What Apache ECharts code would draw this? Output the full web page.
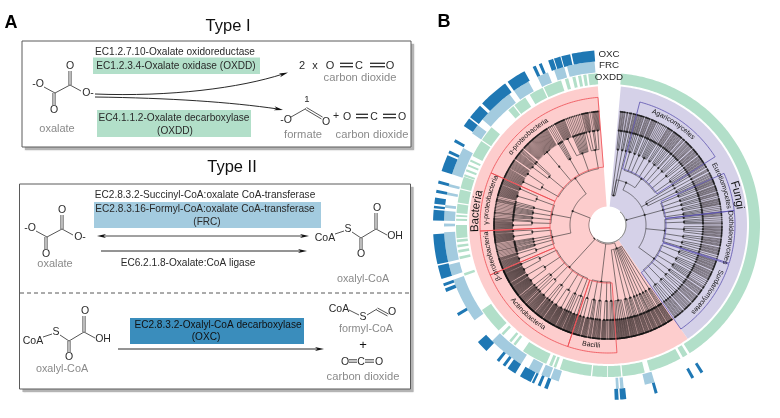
<!DOCTYPE html>
<html>
<head>
<meta charset="utf-8">
<title>Oxalate pathways</title>
<script src="https://cdn.jsdelivr.net/npm/echarts@6/dist/echarts.min.js"></script>
<style>
html,body{margin:0;padding:0;background:#fff;}
#chart{width:780px;height:418px;}
</style>
</head>
<body>
<div id="chart"></div>
<script>
// ring segments, degrees clockwise from north
var oxddSegments = [[5,147.5],[148.5,150.5],[151.5,164],[166,174.5],[175,180],[180.3,186],[186.5,198.5],[200,201],[201.6,202.8],[204,214],[217.5,218.5],[219.5,220.5],[223.5,224.5],[226,236],[250.5,251.5],[257,258],[259.5,260.5],[261.5,262.5],[263.5,264.5],[265,270],[271.6,272.4],[273.1,273.9],[274.5,278],[278.5,283.5],[284,288.5],[288.7,289.5],[290.7,291.5],[292.7,293.5],[294.7,295.5],[297,303.5],[304,310],[319,321.5],[322,327],[329,334.5],[335,342],[343.5,344.8],[346.4,347.6],[348.6,349.8],[350.6,351.8],[352.5,356]];
var frcSegments = [[345.5,355.3],[340.8,344.5],[334.5,338.5],[325,331],[310,323],[304,307.5],[288,298],[283.5,284.5],[280.5,281.5],[276,277],[271.5,275],[269.5,270.5],[257,267.5],[252,256],[234.5,250.5],[212,225],[205,209],[201,204],[197.5,200.5],[176.2,177.2],[174.5,175.7],[163.5,167]];
var oxcSegments = [[348,355.5],[344.5,347.5],[342,344.2],[340,341.7],[336.7,337.7],[334.5,335.6],[325,331.5],[314,324],[308,313],[304.5,307.5],[298.3,299.3],[294.2,295.2],[288,293.5],[283.7,284.7],[280.6,281.6],[277,279],[275.5,276.3],[271.5,275],[257,267],[252,256.5],[249.5,250.5],[247.5,248.7],[238.7,239.7],[224,228],[218.5,219.5],[216,217],[212,215],[206.2,210.2],[205,205.8],[202.7,203.7],[200.2,201.4],[176.5,177.8],[174,176],[163.5,164.5],[150.5,151.5],[147,148]];

// background sectors and clade outlines: [start, end]
var bacteriaSector = [[145,355.8]];
var fungiSector = [[5.3,145]];
var bacteriaClades = [[294,355.5],[267.3,294],[247,267.3],[198.3,247],[176,198.3]];
var fungiClades = [[14.5,57.5],[66,83.5],[83.5,107.5],[108,145]];

// leaf counts: class -> order -> family
var alphaOrders = [[14,12],[10,3,2],[38],[1,1,1,1],[14,1,1,1,1,1,1,1,1,1],[2,7,1,1,8]];
var gammaOrders = [[14,2,2],[1,1,1,2],[1,1,1,1,1,1],[2,3,1],[18,9]];
var betaOrders = [[14,6],[1,1,1,1],[2,1,1],[1,1,1],[16,5]];
var actinoOrders = [[4,12,6],[3,8,3],[16,14],[8,9,4],[20,6],[3,12,4],[24,9],[22,9]];
var bacilliOrders = [[3,2,5],[2,1,8],[6,2,5],[3,2,1,9],[5,8]];
var clostridiaOrders = [[3,3,2,3],[4,3,2],[2,3,3],[1,2,3,3],[3,3],[3,2,3],[4,3,3,2],[3,3,4,4],[4,5,4,5,4,4]];
var topFungiOrders = [[2,2,2],[2,1,2],[2,2]];
var agaricOrders = [[2,2,3,2],[2,2,2],[3,2,2],[1,1,1,1,1,1],[3,2,2],[2,3,2,2,3],[1,2],[3,3,2,3],[3,3,3],[3,3,3,2]];
var gapFungiOrders = [[2,2],[3],[2,2,2]];
var eurotioOrders = [[2,3,2],[3,2,2],[2,2,1],[3,2,3],[1,1,1,1]];
var dothideoOrders = [[2,2],[1,1,1,2],[3,3,3,3],[2,3,3],[2,3,3],[1,1]];
var sordarioOrders = [[3,2,3,3],[2,3,2,3],[1,1,1,1,2],[3,2,2],[3,3,3],[2,3,3,2],[3,3,3,3]];

// curved labels: name, centre angle, radius, size, tops inward
var arcLabels = [
  ['Agaricomycetes',33,122,7,0],['Eurotiomycetes',71,122,7,0],['Dothideomycetes',96,123,7,0],['Sordariomycetes',124,122,7,0],
  ['Fungi',77,133,11.5,0],['Bacteria',-84,133,11.5,0],
  ['α-proteobacteria',-42,121,7,0],['γ-proteobacteria',-78,122,7,0],['β-proteobacteria',-105,122,7,0],
  ['Actinobacteria',-138,121,7,1],['Bacilli',-172,121,7,1]
];

var LEAF_R = 114, FAMILY_R = 95, ORDER_R = 76, CLASS_R = 57;

function famPad(n) { return n === 1 ? 1.2 : 0.3; }
function buildClass(orders, from, to, r) {
  var slots = 0;
  orders.forEach(function (o, i) {
    if (i) slots += 1.2;
    o.forEach(function (n, j) { if (j) slots += famPad(n); slots += n; });
  });
  var step = (to - from - 0.6) / (slots - 1 + 1e-6);
  var pos = from + 0.3;
  var kids = orders.map(function (o, i) {
    if (i) pos += 1.2 * step;
    var fams = o.map(function (n, j) {
      if (j) pos += famPad(n) * step;
      var leaves = [];
      for (var k = 0; k < n; k++) { leaves.push({ r: LEAF_R, a: pos }); pos += step; }
      return mkNode(FAMILY_R, leaves);
    });
    return mkNode(ORDER_R, fams);
  });
  return mkNode(r || CLASS_R, kids);
}
function mkNode(r, kids) {
  return { r: r, kids: kids, a: (kids[0].a + kids[kids.length - 1].a) / 2 };
}

var bacteriaTree = mkNode(19, [
  buildClass(clostridiaOrders, 145.5, 176, 25),
  buildClass(bacilliOrders, 176, 198.3),
  buildClass(actinoOrders, 198.3, 247),
  mkNode(38, [buildClass(betaOrders, 247, 267.3), buildClass(gammaOrders, 267.3, 294), buildClass(alphaOrders, 294, 355.5)])
]);
var fungiTree = mkNode(19, [
  mkNode(38, [
    mkNode(46, [buildClass(topFungiOrders, 6, 14.5, 30), buildClass(agaricOrders, 14.5, 57.5)]),
    buildClass(gapFungiOrders, 57.5, 66, 44),
    buildClass(eurotioOrders, 66, 83.5),
    buildClass(dothideoOrders, 83.5, 107.5),
    buildClass(sordarioOrders, 108, 144.5)
  ])
]);

// leaves fan out almost radially from a short dash at family level
var TAPER = { 95: 0.92, 76: 0.85 };
var leafSegs = [], branchSegs = [], dashSegs = [], nodeDots = [], tipDots = [];
function walk(n) {
  var t = TAPER[n.r] || 1;
  var isFamily = n.r === FAMILY_R;
  var out = isFamily ? leafSegs : branchSegs;
  var first = n.a + (n.kids[0].a - n.a) * t, last = n.a + (n.kids[n.kids.length - 1].a - n.a) * t;
  if (isFamily) {
    if (n.kids.length > 1) dashSegs.push([n.r, n.a + (first - n.a) * 0.35, n.r, n.a + (last - n.a) * 0.35]);
  } else if (last > first) {
    out.push([n.r, first, n.r, last]);
  }
  nodeDots.push([n.r, n.a]);
  n.kids.forEach(function (k) {
    out.push([n.r, n.a + (k.a - n.a) * t, k.r, k.a]);
    if (k.kids) walk(k); else tipDots.push([k.r, k.a]);
  });
}
function stem(n) { branchSegs.push([18, n.a, n.r, n.a]); walk(n); }
stem(bacteriaTree);
stem(fungiTree);

function arcPoints(api, r, a0, a1) {
  var pts = [], n = Math.max(1, Math.ceil(Math.abs(a1 - a0) / 0.8));
  for (var i = 0; i <= n; i++) pts.push(api.coord([r, a0 + (a1 - a0) * i / n]));
  return pts;
}
function ringSeries(name, segs, r0, r1, color, z) {
  return {
    name: name, type: 'custom', coordinateSystem: 'polar', z: z, silent: true,
    animation: false, clip: false,
    data: segs,
    encode: { angle: 0 },
    dimensions: ['start', 'end'],
    renderItem: function (params, api) {
      var a0 = api.value(0), a1 = api.value(1);
      var pts = arcPoints(api, r1, a0, a1).concat(arcPoints(api, r0, a1, a0));
      return { type: 'polygon', shape: { points: pts }, style: { fill: color } };
    }
  };
}
function segSeries(name, segs, color, width, z) {
  return {
    name: name, type: 'custom', coordinateSystem: 'polar', z: z, silent: true,
    animation: false, clip: false, progressive: 0,
    data: segs,
    encode: { radius: 0, angle: 1 },
    renderItem: function (params, api) {
      var r0 = api.value(0), a0 = api.value(1), r1 = api.value(2), a1 = api.value(3);
      var pts = r0 === r1 ? arcPoints(api, r0, a0, a1) : [api.coord([r0, a0]), api.coord([r1, a1])];
      return { type: 'polyline', shape: { points: pts }, style: { stroke: color, lineWidth: width, fill: null } };
    }
  };
}
function cladeSeries(name, segs, r0, r1, color, z) {
  return {
    name: name, type: 'custom', coordinateSystem: 'polar', z: z, silent: true,
    animation: false, clip: false,
    data: segs,
    encode: { angle: 0 },
    renderItem: function (params, api) {
      var a0 = api.value(0), a1 = api.value(1);
      var pts = arcPoints(api, r1, a0, a1).concat(arcPoints(api, r0, a1, a0));
      pts.push(pts[0]);
      return { type: 'polyline', shape: { points: pts }, style: { stroke: color, lineWidth: 0.8, fill: null } };
    }
  };
}

var measure = document.createElement('canvas').getContext('2d');
var labelSeries = {
  name: 'clades', type: 'custom', coordinateSystem: 'polar', z: 20, silent: true,
  animation: false, clip: false,
  data: arcLabels.map(function (l) { return [l[2], l[1]]; }),
  encode: { radius: 0, angle: 1 },
  renderItem: function (params, api) {
    var l = arcLabels[params.dataIndex], size = l[3], inward = l[4];
    var font = size + 'px "Liberation Sans"';
    measure.font = font;
    var total = measure.measureText(l[0]).width;
    var deg = 180 / Math.PI / l[2];
    var s = -total / 2, kids = [];
    l[0].split('').forEach(function (ch) {
      var w = measure.measureText(ch).width;
      var off = (s + w / 2) * deg * (inward ? -1 : 1);
      var a = l[1] + off;
      var p = api.coord([l[2], a]);
      kids.push({
        type: 'text', x: p[0], y: p[1], rotation: -(a + (inward ? 180 : 0)) * Math.PI / 180,
        style: { text: ch, font: font, fill: '#111', align: 'center', verticalAlign: 'middle', textAlign: 'center', textVerticalAlign: 'middle' }
      });
      s += w;
    });
    return { type: 'group', children: kids };
  }
};

// left panel helpers
var INK = '#2a2a2a', GREY = '#8a8a8a', OXDD = '#b2dfc9', FRC = '#a3cbdf', OXC = '#3a8dbc';
function txt(t, x, y, size, color, weight) {
  return { type: 'text', x: x, y: y, z: 5, silent: true, style: {
    text: t, font: (weight ? weight + ' ' : '') + size + 'px "Liberation Sans"', fill: color || INK,
    align: 'center', verticalAlign: 'middle', textAlign: 'center', textVerticalAlign: 'middle' } };
}
function ln(x1, y1, x2, y2, w, color, dash) {
  return { type: 'line', z: 4, silent: true, shape: { x1: x1, y1: y1, x2: x2, y2: y2 },
    style: { stroke: color || INK, lineWidth: w || 0.8, lineDash: dash } };
}
function dbl(x1, y1, x2, y2, gap, w) {
  var dx = x2 - x1, dy = y2 - y1, len = Math.sqrt(dx * dx + dy * dy);
  var ox = -dy / len * gap / 2, oy = dx / len * gap / 2;
  return [ln(x1 + ox, y1 + oy, x2 + ox, y2 + oy, w), ln(x1 - ox, y1 - oy, x2 - ox, y2 - oy, w)];
}
function head(x, y, ang) {
  var c = Math.cos(ang), s = Math.sin(ang), L = 9, W = 2;
  return { type: 'polygon', z: 4, silent: true, style: { fill: '#111' }, shape: { points: [
    [x, y], [x - L * c - W * s, y - L * s + W * c], [x - 6.5 * c, y - 6.5 * s], [x - L * c + W * s, y - L * s - W * c]] } };
}
function rect(x, y, w, h, fill) {
  return { type: 'rect', z: 2, silent: true, shape: { x: x, y: y, width: w, height: h }, style: { fill: fill } };
}
function frame(x, y, w, h) {
  return [
    { type: 'rect', z: 0, silent: true, shape: { x: x + 3, y: y + 3, width: w, height: h }, style: { fill: '#b4b4b4', shadowBlur: 1.5, shadowColor: '#b4b4b4' } },
    { type: 'rect', z: 1, silent: true, shape: { x: x, y: y, width: w, height: h }, style: { fill: '#fff', stroke: '#5a5a5a', lineWidth: 1 } }
  ];
}
function co2(x1, c, x2, y, b1, b2, b3, b4, gap, w, size) {
  return [txt('O', x1, y, size), txt('C', c, y, size), txt('O', x2, y, size)]
    .concat(dbl(b1, y - 1, b2, y - 1, gap, w), dbl(b3, y - 1, b4, y - 1, gap, w));
}
function oxalate(dx, dy) {
  // drawn relative to the Type I molecule
  var g = [
    ln(44 + dx, 87 + dy, 55 + dx, 93 + dy), ln(55 + dx, 93 + dy, 70 + dx, 85 + dy), ln(70 + dx, 85 + dy, 81 + dx, 91 + dy),
    txt('-O', 38 + dx, 84 + dy, 10.5), txt('O', 70 + dx, 66 + dy, 10.5), txt('O', 54 + dx, 110 + dy, 10.5), txt('O-', 88 + dx, 93 + dy, 10.5)
  ];
  return g.concat(dbl(70 + dx, 85 + dy, 70 + dx, 71 + dy, 2.2), dbl(54 + dx, 93 + dy, 54 + dx, 105 + dy, 2.2));
}
function oxalylCoA(dx, dy) {
  var g = [
    txt('CoA', 33 + dx, 341 + dy, 10.5), txt('S', 56 + dx, 332 + dy, 10.5), txt('O', 85 + dx, 311 + dy, 10.5),
    txt('O', 69 + dx, 357 + dy, 10.5), txt('OH', 103 + dx, 339 + dy, 10.5),
    ln(43 + dx, 337 + dy, 52 + dx, 334 + dy), ln(60 + dx, 335 + dy, 69 + dx, 341 + dy),
    ln(69 + dx, 341 + dy, 84 + dx, 332 + dy), ln(84 + dx, 332 + dy, 95 + dx, 338 + dy)
  ];
  return g.concat(dbl(84 + dx, 332 + dy, 84 + dx, 316 + dy, 2.2), dbl(69 + dx, 341 + dy, 69 + dx, 352 + dy, 2.2));
}

var graphics = [].concat(
  txt('A', 11, 23.5, 18, '#000', 'bold'), txt('B', 444, 22.5, 18, '#000', 'bold'),
  txt('Type I', 228, 26.5, 16.5, '#111'), txt('Type II', 232, 167, 16.5, '#111'),
  frame(22, 41, 389, 106), frame(19.5, 184, 391, 205),
  // Type I
  rect(93, 57.5, 167, 16.5, OXDD), rect(97, 110, 154, 27, OXDD),
  txt('EC1.2.7.10-Oxalate oxidoreductase', 175, 52, 10.1),
  txt('EC1.2.3.4-Oxalate oxidase (OXDD)', 176, 66, 10.1),
  txt('EC4.1.1.2-Oxalate decarboxylase', 174, 118, 10.1),
  txt('(OXDD)', 175, 131, 10.1),
  oxalate(0, 0),
  txt('oxalate', 57, 128.5, 11, GREY),
  { type: 'bezierCurve', z: 4, silent: true, shape: { x1: 95, y1: 94, x2: 283, y2: 74, cpx1: 170, cpy1: 97, cpx2: 240, cpy2: 88 }, style: { stroke: '#111', lineWidth: 0.9, fill: null } },
  head(288, 72.5, -0.33),
  { type: 'bezierCurve', z: 4, silent: true, shape: { x1: 95, y1: 97, x2: 278, y2: 109, cpx1: 170, cpy1: 98, cpx2: 230, cpy2: 102 }, style: { stroke: '#111', lineWidth: 0.9, fill: null } },
  head(283, 110, 0.2),
  txt('2', 302, 66, 11), txt('x', 315, 66, 11),
  co2(330, 359, 390, 66, 340, 353, 370, 385, 3.4, 1.3, 11),
  txt('carbon dioxide', 360, 78, 11.2, GREY),
  txt('1', 307, 99, 9.5), txt('-O', 286, 120, 10.5), txt('O', 326, 122, 10.5),
  ln(291, 117, 306, 108.5),
  dbl(306, 108.5, 322, 118, 2.2),
  txt('+', 336, 116, 10.5),
  co2(347, 374, 402, 117, 356, 368, 383, 396, 3.4, 1.3, 10.5),
  txt('formate', 303, 135, 11.2, GREY), txt('carbon dioxide', 372, 135, 11.2, GREY),
  // Type II
  rect(94, 202, 227, 26, FRC),
  txt('EC2.8.3.2-Succinyl-CoA:oxalate CoA-transferase', 205, 195, 10.1),
  txt('EC2.8.3.16-Formyl-CoA:oxalate CoA-transferase', 205, 209, 10.1),
  txt('(FRC)', 207, 222, 10.1),
  ln(101, 236, 304, 236, 0.8, '#111'), head(309, 236, 0), head(97, 236, Math.PI),
  ln(101, 251, 301, 251, 0.9, '#111'), head(307, 251, 0),
  txt('EC6.2.1.8-Oxalate:CoA ligase', 188, 263, 10.1),
  oxalate(-8, 144),
  txt('oxalate', 55, 264, 11, GREY),
  oxalylCoA(292, -103),
  txt('oxalyl-CoA', 363, 279, 10.8, GREY),
  ln(20, 293, 410, 293, 0.9, '#444', [4, 3]),
  oxalylCoA(0, 0),
  txt('oxalyl-CoA', 62, 369, 10.8, GREY),
  rect(130, 318, 174, 26, OXC),
  txt('EC2.8.3.2-Oxalyl-CoA decarboxylase', 218, 325, 10.1, '#111'),
  txt('(OXC)', 206, 337, 10.1, '#111'),
  ln(118, 349, 318, 349, 0.9, '#111'), head(324, 349, 0),
  txt('CoA', 339, 309, 10.5), txt('S', 363, 317, 10.5), txt('O', 392, 312, 10.5),
  ln(349, 310, 359, 315), ln(367, 315, 377, 309),
  dbl(377, 309, 388, 315, 2.2),
  txt('formyl-CoA', 366, 329, 10.8, GREY),
  txt('+', 363, 345, 13, '#111'),
  co2(345, 361, 379, 362, 349, 357, 365, 374, 2.4, 0.9, 10.5),
  txt('carbon dioxide', 363, 377, 11.2, GREY),
  // ring names
  txt('OXC', 609, 54, 9.8), txt('FRC', 609, 65.5, 9.8), txt('OXDD', 609, 77, 9.8)
);

var series = [
  ringSeries('Bacteria', bacteriaSector, 18, 139, '#fdcdcd', 1),
  ringSeries('Fungi', fungiSector, 18, 139, '#d5d1e8', 1),
  ringSeries('OXDD', oxddSegments, 141, 152, '#b2dfc9', 2),
  ringSeries('FRC', frcSegments, 153, 164, '#a3cbdf', 2),
  ringSeries('OXC', oxcSegments, 164, 175, '#1f78b4', 2),
  segSeries('leaves', leafSegs, '#2b2323', 0.5, 5),
  segSeries('branches', branchSegs, '#2b2b2b', 0.6, 6),
  segSeries('family dashes', dashSegs, '#161616', 1, 6),
  { name: 'tips', type: 'scatter', coordinateSystem: 'polar', data: tipDots, symbolSize: 1.7, silent: true, animation: false, z: 7,
    itemStyle: { color: '#111' } },
  { name: 'nodes', type: 'scatter', coordinateSystem: 'polar', data: nodeDots, symbolSize: 2.2, silent: true, animation: false, z: 7,
    itemStyle: { color: '#111' } },
  cladeSeries('bacteria clades', bacteriaClades, 58, 128, '#ee4a50', 10),
  cladeSeries('fungi clades', fungiClades, 58, 127, '#5a50ae', 10),
  ringSeries('hole', [[0, 360]], 0, 18.5, '#ffffff', 12),
  segSeries('root', [[18, 42, 18, 218]], '#222', 0.7, 13),
  labelSeries
];

var myChart = echarts.init(document.getElementById('chart'), null, { renderer: 'canvas' });
myChart.setOption({
  animation: false,
  backgroundColor: '#fff',
  polar: { center: [608, 225], radius: [0, 175] },
  angleAxis: { type: 'value', min: 0, max: 360, startAngle: 90, clockwise: true, show: false },
  radiusAxis: { type: 'value', min: 0, max: 175, show: false },
  graphic: { elements: graphics },
  series: series
});
</script>
</body>
</html>
